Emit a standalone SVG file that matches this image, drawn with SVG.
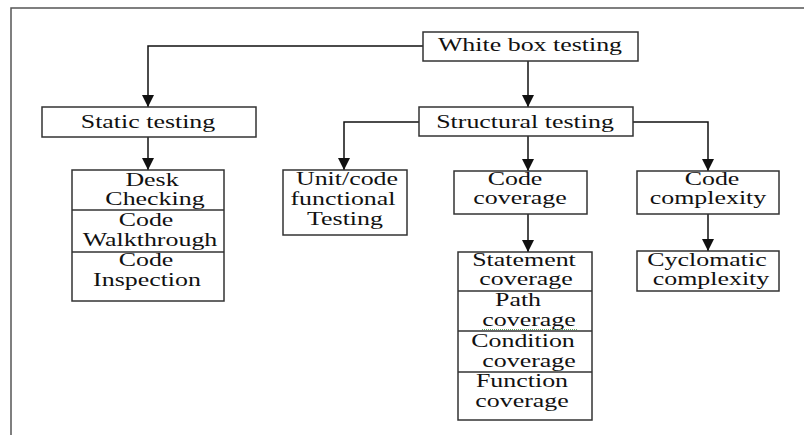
<svg xmlns="http://www.w3.org/2000/svg" width="804" height="435" viewBox="0 0 804 435">
<style>
.box{fill:#fff;stroke:#333;stroke-width:1.5}
.div{stroke:#333;stroke-width:1.5}
.con{fill:none;stroke:#111;stroke-width:1.5;marker-end:url(#ah)}
text{font-family:"Liberation Serif","Times New Roman",serif;font-size:18px;fill:#111;text-anchor:middle}
</style>
<defs>
<marker id="ah" markerUnits="userSpaceOnUse" markerWidth="12" markerHeight="12" viewBox="0 0 12 12" refX="12" refY="6" orient="auto">
<path d="M0,0 L12,6 L0,12 z" fill="#111"/>
</marker>
</defs>
<rect width="804" height="435" fill="#fff"/>
<path d="M11,435 V8 H804" fill="none" stroke="#555" stroke-width="1.5"/>
<g id="connectors">
<path class="con" d="M423,46 H148 V107"/>
<path class="con" d="M528,61 V107"/>
<path class="con" d="M419,122 H344 V170"/>
<path class="con" d="M528,136 V171"/>
<path class="con" d="M633,122 H708 V171"/>
<path class="con" d="M148,137 V170"/>
<path class="con" d="M528,214 V252"/>
<path class="con" d="M708,214 V251"/>
</g>
<g id="white-box">
<rect class="box" x="423" y="32" width="215" height="29"/>
<text transform="translate(530 51) scale(1.44 1)">White box testing</text>
</g>
<g id="static">
<rect class="box" x="42" y="107" width="214" height="30"/>
<text transform="translate(148 128) scale(1.44 1)">Static testing</text>
</g>
<g id="structural">
<rect class="box" x="419" y="107" width="214" height="29"/>
<text transform="translate(525 128) scale(1.44 1)">Structural testing</text>
</g>
<g id="static-list">
<rect class="box" x="72" y="170" width="152" height="131"/>
<line class="div" x1="72" y1="210" x2="224" y2="210"/>
<line class="div" x1="72" y1="252" x2="224" y2="252"/>
<text transform="translate(152 186) scale(1.44 1)">Desk</text>
<text transform="translate(155 205) scale(1.44 1)">Checking</text>
<text transform="translate(146 226) scale(1.44 1)">Code</text>
<text transform="translate(150 246) scale(1.44 1)">Walkthrough</text>
<text transform="translate(146 266) scale(1.44 1)">Code</text>
<text transform="translate(147 286) scale(1.44 1)">Inspection</text>
</g>
<g id="unit">
<rect class="box" x="283" y="170" width="124" height="65"/>
<text transform="translate(347 185) scale(1.44 1)">Unit/code</text>
<text transform="translate(343 205) scale(1.44 1)">functional</text>
<text transform="translate(345 225) scale(1.44 1)">Testing</text>
</g>
<g id="code-coverage">
<rect class="box" x="454" y="171" width="133" height="43"/>
<text transform="translate(515 185) scale(1.44 1)">Code</text>
<text transform="translate(520 204) scale(1.44 1)">coverage</text>
</g>
<g id="code-complexity">
<rect class="box" x="637" y="171" width="142" height="43"/>
<text transform="translate(712 185) scale(1.44 1)">Code</text>
<text transform="translate(708 204) scale(1.44 1)">complexity</text>
</g>
<g id="coverage-list">
<rect class="box" x="458" y="252" width="134" height="168"/>
<line class="div" x1="458" y1="291" x2="592" y2="291"/>
<line class="div" x1="458" y1="331" x2="592" y2="331"/>
<line class="div" x1="458" y1="372" x2="592" y2="372"/>
<text transform="translate(524 266) scale(1.44 1)">Statement</text>
<text transform="translate(526 285) scale(1.44 1)">coverage</text>
<text transform="translate(518 306) scale(1.44 1)">Path</text>
<text transform="translate(529 326) scale(1.44 1)">coverage</text>
<line x1="482" y1="329.5" x2="577" y2="329.5" stroke="#6a6" stroke-width="1" stroke-dasharray="1,1"/>
<text transform="translate(523 347) scale(1.44 1)">Condition</text>
<text transform="translate(529 367) scale(1.44 1)">coverage</text>
<text transform="translate(522 387) scale(1.44 1)">Function</text>
<text transform="translate(522 407) scale(1.44 1)">coverage</text>
</g>
<g id="cyclomatic">
<rect class="box" x="637" y="251" width="142" height="40"/>
<text transform="translate(707 266) scale(1.44 1)">Cyclomatic</text>
<text transform="translate(711 285) scale(1.44 1)">complexity</text>
</g>
</svg>
